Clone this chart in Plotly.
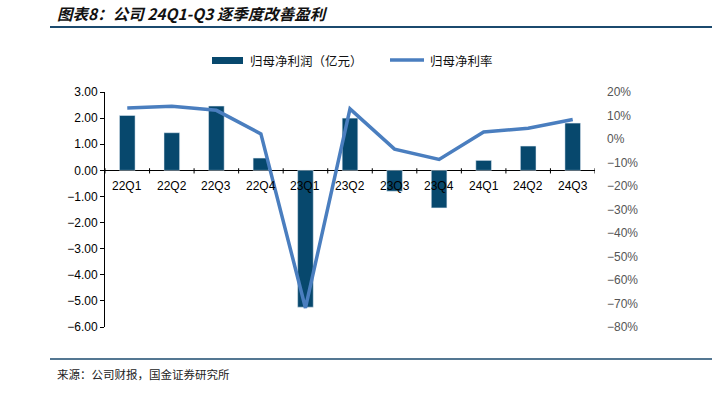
import plotly.graph_objects as go

categories = ["22Q1", "22Q2", "22Q3", "22Q4", "23Q1", "23Q2", "23Q3", "23Q4", "24Q1", "24Q2", "24Q3"]
net_profit = [2.10, 1.44, 2.46, 0.47, -5.24, 2.00, -0.80, -1.44, 0.38, 0.93, 1.81]
net_margin = [0.132, 0.139, 0.122, 0.022, -0.719, 0.128, -0.043, -0.087, 0.030, 0.046, 0.083]
left_ticks = [3, 2, 1, 0, -1, -2, -3, -4, -5, -6]
right_ticks = [0.2, 0.1, 0, -0.1, -0.2, -0.3, -0.4, -0.5, -0.6, -0.7, -0.8]

BAR = "#07486d"
LINE = "#4a7ebf"
NAVY = "#1b4a6e"
W, H = 724, 393
L, R, T, B = 105, 129, 92, 66
PW, PH = W - L - R, H - T - B

def px(x):
    return (x - L) / PW

def py(y):
    return (H - B - y) / PH

fig = go.Figure()
fig.add_trace(go.Bar(x=list(range(len(categories))), y=net_profit, marker_color=BAR,
                     width=0.35, name="归母净利润（亿元）", yaxis="y"))
fig.add_trace(go.Scatter(x=list(range(len(categories))), y=net_margin, mode="lines",
                         line=dict(color=LINE, width=3.5), name="归母净利率", yaxis="y2"))

annotations = []
for i, c in enumerate(categories):
    annotations.append(dict(x=i, y=0, xref="x", yref="y", text=c, showarrow=False,
                            yshift=-16, font=dict(size=12, color="#000", family="Liberation Sans, Arial")))

shapes = []
for i in range(len(categories) + 1):
    shapes.append(dict(type="line", xref="x", yref="y", x0=i - 0.5, x1=i - 0.5,
                       y0=0.08, y1=-0.12, line=dict(color="#000", width=1)))

# title & rules
annotations.append(dict(xref="paper", yref="paper", x=px(55), y=py(13), xanchor="left", yanchor="middle",
                        text="<b><i>图表8：公司 24Q1-Q3 逐季度改善盈利</i></b>", showarrow=False,
                        font=dict(size=15.5, color="#111", family="Noto Sans CJK SC")))
shapes.append(dict(type="line", xref="paper", yref="paper", x0=px(50), x1=px(712), y0=py(27), y1=py(27),
                   line=dict(color=NAVY, width=2)))
shapes.append(dict(type="line", xref="paper", yref="paper", x0=px(50), x1=px(712), y0=py(359), y1=py(359),
                   line=dict(color=NAVY, width=1.5)))
annotations.append(dict(xref="paper", yref="paper", x=px(55), y=py(374), xanchor="left", yanchor="middle",
                        text="来源：公司财报，国金证券研究所", showarrow=False,
                        font=dict(size=11.5, color="#222", family="Noto Sans CJK SC")))

# custom legend
shapes.append(dict(type="rect", xref="paper", yref="paper", x0=px(212), x1=px(243), y0=py(64), y1=py(57),
                   fillcolor=BAR, line=dict(width=0)))
annotations.append(dict(xref="paper", yref="paper", x=px(248), y=py(60), xanchor="left", yanchor="middle",
                        text="归母净利润（亿元）", showarrow=False,
                        font=dict(size=12.5, color="#111", family="Noto Sans CJK SC")))
shapes.append(dict(type="line", xref="paper", yref="paper", x0=px(390), x1=px(424), y0=py(60), y1=py(60),
                   line=dict(color=LINE, width=3.5)))
annotations.append(dict(xref="paper", yref="paper", x=px(428), y=py(60), xanchor="left", yanchor="middle",
                        text="归母净利率", showarrow=False,
                        font=dict(size=12.5, color="#111", family="Noto Sans CJK SC")))

fig.update_layout(
    width=W, height=H,
    margin=dict(l=L, r=R, t=T, b=B),
    paper_bgcolor="white", plot_bgcolor="white",
    showlegend=False,
    bargap=0.65,
    xaxis=dict(range=[-0.5, len(categories) - 0.5], showticklabels=False, showgrid=False,
               zeroline=False, showline=False, ticks=""),
    yaxis=dict(range=[-6, 3], tickvals=left_ticks, tickformat=".2f", showgrid=False,
               zeroline=True, zerolinecolor="#000", zerolinewidth=1,
               showline=True, linecolor="#000", linewidth=1, ticks="outside", ticklen=4,
               tickcolor="#000", tickfont=dict(size=12, color="#000", family="Liberation Sans, Arial")),
    yaxis2=dict(range=[-0.8, 0.2], tickvals=right_ticks, tickformat=".0%", overlaying="y", side="right",
                showgrid=False, zeroline=False, showline=False, ticks="", ticklabelstandoff=11,
                tickfont=dict(size=12, color="#555", family="Liberation Sans, Arial")),
    annotations=annotations,
    shapes=shapes,
)

fig.write_html("out.html", config={"displayModeBar": False},
               post_script="document.body.style.margin='0';document.body.style.overflow='hidden';")
